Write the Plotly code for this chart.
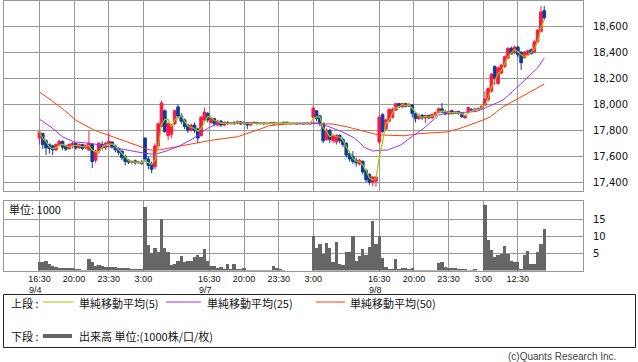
import plotly.graph_objects as go
import pandas as pd

W, H = 638, 362

# ---------------- data (20-minute bars) ----------------
# sessions: 9/4 night, 9/7 day, 9/7 night, 9/8 day, 9/8 night, 9/9 day
opens = [
    17740,17775,17720,17690,17680,17650,17690,17715,17680,17660,17680,17700,17665,17690,17665,17650,
    17690,17570,17640,17690,17665,17690,17710,17680,17660,17640,17600,17570,17555,17565,17550,17555,
    17740,17580,17540,17520,17680,17830,17950,17760,17770,17850,17980,17910,17880,17840,17800,17840,
    17810,17760,17880,17930,
    17860,17890,17840,17870,17840,17860,17850,17860,17855,17865,17850,17860,17840,17855,17860,17850,
    17855,17850,17852,17858,17850,17853,17848,17862,17852,17850,17852,17850,17851,17849,17852,
    17900,17950,17910,17850,17730,17800,17720,17710,17760,17730,17700,17620,17600,17570,17540,17560,
    17490,17460,17400,17410,
    17710,17920,17810,17870,17900,17955,18005,17980,18005,17985,17995,17930,17890,17915,17895,17915,
    17895,17915,17935,17965,17945,17925,17950,17930,17945,17935,17895,17940,17960,17955,17965,17965,
    17990,18035,18100,18290,18160,18240,18290,18355,18430,18395,18440,18400,18360,18380,18420,18400,
    18480,18560,18720,
]
highs = [
    17795,17780,17730,17700,17690,17700,17725,17720,17690,17700,17710,17705,17700,17695,17690,17795,
    17700,17650,17710,17715,17710,17780,17715,17690,17670,17645,17610,17580,17570,17575,17565,17570,
    17745,17600,17560,17700,17860,18030,17960,17860,17850,17960,18000,17930,17890,17850,17850,17860,
    17820,17910,17975,17940,
    17900,17895,17880,17880,17870,17870,17865,17870,17875,17870,17870,17865,17860,17870,17865,17860,
    17860,17858,17862,17866,17858,17856,17868,17866,17856,17855,17855,17854,17853,17855,17856,
    17985,17955,17920,17860,17815,17810,17770,17770,17770,17740,17710,17640,17640,17590,17580,17570,
    17500,17470,17450,17450,
    17920,17930,17890,17970,17975,18012,18012,18010,18010,18008,18000,17940,17925,17925,17920,17920,
    17930,17945,17975,18010,17955,17950,17960,17950,17950,17940,17915,17980,17970,17970,17975,17990,
    18100,18130,18240,18300,18290,18310,18375,18440,18445,18450,18450,18410,18410,18420,18430,18495,
    18580,18755,18755,
]
lows = [
    17690,17656,17610,17620,17610,17640,17680,17650,17640,17650,17660,17650,17655,17645,17655,17640,
    17510,17550,17620,17650,17650,17680,17660,17630,17610,17570,17530,17540,17540,17535,17540,17535,
    17560,17500,17470,17500,17660,17820,17780,17725,17740,17840,17890,17850,17810,17780,17790,17780,
    17700,17750,17870,17860,
    17850,17830,17830,17825,17830,17840,17845,17840,17845,17840,17845,17810,17835,17850,17845,17845,
    17845,17845,17848,17845,17848,17845,17846,17845,17846,17847,17846,17847,17846,17847,17845,
    17890,17870,17830,17700,17720,17700,17700,17690,17700,17670,17590,17560,17540,17520,17530,17460,
    17400,17380,17370,17366,
    17690,17780,17800,17860,17890,17950,17970,17975,17975,17978,17900,17860,17880,17880,17855,17885,
    17890,17905,17930,17935,17915,17920,17920,17925,17920,17895,17890,17935,17945,17950,17950,17960,
    17985,18020,18090,18150,18150,18230,18280,18345,18380,18385,18360,18265,18350,18370,18380,18395,
    18470,18550,18650,
]
closes = [
    17785,17690,17665,17660,17650,17690,17715,17670,17655,17690,17700,17665,17690,17660,17685,17700,
    17560,17640,17700,17665,17700,17715,17670,17650,17630,17590,17560,17555,17560,17550,17555,17545,
    17580,17530,17500,17680,17850,18010,17790,17850,17840,17950,17910,17870,17830,17800,17840,17800,
    17740,17900,17940,17880,
    17890,17850,17870,17840,17860,17850,17860,17855,17865,17850,17860,17840,17855,17860,17850,17855,
    17850,17852,17858,17850,17853,17848,17862,17852,17850,17852,17850,17851,17849,17852,17850,
    17970,17890,17850,17720,17800,17730,17760,17760,17720,17690,17610,17580,17560,17550,17570,17480,
    17420,17400,17440,17440,
    17900,17790,17880,17960,17960,18005,17980,18005,17985,18000,17930,17890,17910,17895,17915,17895,
    17920,17935,17965,17940,17925,17945,17930,17945,17930,17905,17910,17975,17955,17965,17960,17985,
    18040,18120,18230,18200,18280,18300,18365,18430,18390,18440,18380,18320,18400,18410,18390,18480,
    18570,18710,18665,
]
volumes = [
    2.5,2.5,2.9,2.0,1.3,1.0,0.9,0.9,0.9,0.9,0.8,0.6,0.6,0.3,0.3,3.5,
    2.5,1.5,1.8,1.5,1.0,1.2,1.2,1.0,0.8,0.8,0.7,0.7,0.5,0.5,0.5,0.4,
    18.7,7.6,5.2,6.7,5.5,15.1,6.5,5.5,1.7,2.0,3.0,4.3,2.7,3.0,3.0,4.0,4.6,4.0,6.4,3.0,
    1.5,1.5,0.7,1.2,0.5,2.0,0.5,2.0,0.5,0.6,0.7,0.2,0.2,0.2,0.2,0.2,
    0.3,0.3,0.3,1.5,0.7,0.5,0.2,0.1,0.1,0.1,0.1,0.1,0.1,0.1,0.1,
    10.0,6.7,7.8,4.9,8.1,6.7,2.6,8.4,2.1,1.6,5.6,5.6,10.2,3.0,4.3,6.4,4.5,7.0,14.5,7.8,
    10.2,3.8,1.0,0.6,0.5,3.4,0.5,0.7,0.7,0.5,0.7,0.3,0.3,0.3,0.2,0.2,
    0.2,0.2,2.2,2.5,1.2,0.9,0.9,0.9,0.5,0.5,0.5,0.3,0.3,0.5,0.1,0.1,
    19.0,9.0,6.2,4.0,4.6,5.0,7.1,5.0,3.0,2.6,2.6,0.5,4.6,5.7,1.9,2.0,5.4,7.8,12.2,
]

# moving averages (25 / 50), positioned in 10-minute slots
ma25_x = [0,7,14,21,31,43,53,63,70,78,85,93,102,108,118,134,146,166,170,178,
          184,191,197,202,205,211,219,227,233,242,247,258,265,271,281,287,293,302,306]
ma25_y = [17885,17825,17750,17710,17700,17670,17650,17625,17615,17645,17680,17735,17815,17855,17858,
          17855,17855,17858,17855,17815,17785,17740,17670,17640,17645,17648,17687,17763,17815,17917,
          17932,17938,17945,17975,18033,18100,18170,18280,18355]
ma50_x = [0,7,15,22,33,43,53,61,67,73,81,93,105,120,130,134,139,151,165,178,
          187,190,198,205,221,231,247,255,265,273,281,291,302,306]
ma50_y = [18094,18033,17955,17878,17802,17755,17710,17672,17648,17650,17670,17700,17725,17750,17790,
          17810,17835,17850,17852,17848,17825,17815,17787,17765,17758,17775,17787,17815,17860,17900,
          17980,18050,18125,18155]

# axis ticks (10-minute slot index)
tick_slots = [0, 21, 42, 63, 103, 124, 145, 166, 206, 227, 248, 269, 290]
tick_labels = ["16:30", "20:00", "23:30", "3:00", "16:30", "20:00", "23:30", "3:00",
               "16:30", "20:00", "23:30", "3:00", "12:30"]
date_slots = [0, 103, 206]
date_labels = ["9/4", "9/7", "9/8"]
price_ticks = [17400, 17600, 17800, 18000, 18200, 18400, 18600]
vol_ticks = [5, 10, 15]

# ---------------- build ----------------
bar_x = [2 * i for i in range(len(closes))]
ma5 = pd.Series(closes).rolling(3, min_periods=1).mean().tolist()

UP, DN = "#ff1744", "#0d3c9e"
C5, C25, C50 = "#99cc00", "#9b30ff", "#ff3b0a"
GRID = "#999999"
VOLC = "#666666"

def py(p):
    return 1 - p / H

def pxx(p):
    return p / W

fig = go.Figure()
fig.add_trace(go.Candlestick(
    x=bar_x, open=opens, high=highs, low=lows, close=closes,
    increasing=dict(line=dict(color=UP, width=1), fillcolor=UP),
    decreasing=dict(line=dict(color=DN, width=1), fillcolor=DN),
    whiskerwidth=0, showlegend=False, xaxis="x", yaxis="y"))
fig.add_trace(go.Scatter(x=ma50_x, y=ma50_y, mode="lines", line=dict(color=C50, width=1),
                         showlegend=False, xaxis="x", yaxis="y"))
fig.add_trace(go.Scatter(x=ma25_x, y=ma25_y, mode="lines", line=dict(color=C25, width=1),
                         showlegend=False, xaxis="x", yaxis="y"))
fig.add_trace(go.Scatter(x=bar_x, y=ma5, mode="lines", line=dict(color=C5, width=1.2),
                         showlegend=False, xaxis="x", yaxis="y"))
fig.add_trace(go.Bar(x=bar_x, y=volumes, width=2, marker=dict(color=VOLC, line=dict(width=0)),
                     showlegend=False, xaxis="x2", yaxis="y2"))

xr = [-21.8, 329.5]
common_x = dict(range=xr, tickvals=tick_slots, showgrid=True, gridcolor=GRID, gridwidth=1,
                showline=True, linecolor=GRID, linewidth=1, mirror=True, zeroline=False,
                domain=[pxx(3.5), pxx(583)], fixedrange=True)
tickfont = dict(family="DejaVu Sans", size=10, color="#111")

fig.update_layout(
    width=W, height=H, margin=dict(l=0, r=0, t=0, b=0),
    paper_bgcolor="white", plot_bgcolor="white",
    boxgap=0.1, boxgroupgap=0.1, bargap=0,
    showlegend=False,
    xaxis=dict(**common_x, anchor="y", showticklabels=False, rangeslider=dict(visible=False)),
    xaxis2=dict(**common_x, anchor="y2", showticklabels=True, ticktext=tick_labels,
                ticks="", tickfont=dict(family="Liberation Sans", size=9, color="#111")),
    yaxis=dict(domain=[py(190.5), py(0.5)], range=[17337, 18798], side="right",
               tickvals=price_ticks, tickformat=",d", showgrid=True, gridcolor=GRID,
               showline=True, linecolor=GRID, mirror=True, zeroline=False,
               ticks="outside", ticklen=7, tickcolor="rgba(0,0,0,0)", tickfont=tickfont,
               fixedrange=True),
    yaxis2=dict(domain=[py(270.5), py(201)], range=[0.1, 20.3], side="right",
                tickvals=vol_ticks, showgrid=True, gridcolor=GRID,
                showline=True, linecolor=GRID, mirror=True, zeroline=False,
                ticks="outside", ticklen=7, tickcolor="rgba(0,0,0,0)", tickfont=tickfont,
                fixedrange=True),
)

JP = "Noto Sans CJK JP"
ann = []
for s, lab in zip(date_slots, date_labels):
    ann.append(dict(x=s, xref="x2", y=py(289.5), yref="paper", text=lab, showarrow=False,
                    xanchor="left", yanchor="middle", xshift=-12,
                    font=dict(family="Liberation Sans", size=9, color="#111")))
ann.append(dict(x=pxx(7), y=py(209), xref="paper", yref="paper", text="単位: 1000",
                showarrow=False, xanchor="left", yanchor="middle",
                font=dict(family=JP, size=11, color="#111")))
legend_items = [
    ("上段 :", 9, 303), ("単純移動平均(5)", 77, 303), ("単純移動平均(25)", 205, 303),
    ("単純移動平均(50)", 348, 303), ("下段 :", 9, 336), ("出来高 単位:(1000株/口/枚)", 77, 336),
]
for t, x0, y0 in legend_items:
    ann.append(dict(x=pxx(x0), y=py(y0), xref="paper", yref="paper", text=t, showarrow=False,
                    xanchor="left", yanchor="middle", font=dict(family=JP, size=11, color="#111")))
ann.append(dict(x=pxx(618), y=py(356), xref="paper", yref="paper",
                text="(c)Quants Research Inc.", showarrow=False, xanchor="right",
                yanchor="middle", font=dict(family="Liberation Sans", size=10, color="#444")))
fig.update_layout(annotations=ann)

shapes = [
    dict(type="rect", xref="paper", yref="paper", x0=pxx(3.5), x1=pxx(635.5),
         y0=py(347.5), y1=py(294.5), line=dict(color="#222", width=1)),
    dict(type="line", xref="paper", yref="paper", x0=pxx(43), x1=pxx(73), y0=py(302), y1=py(302),
         line=dict(color=C5, width=1)),
    dict(type="line", xref="paper", yref="paper", x0=pxx(166), x1=pxx(201), y0=py(302), y1=py(302),
         line=dict(color=C25, width=1)),
    dict(type="line", xref="paper", yref="paper", x0=pxx(316), x1=pxx(345), y0=py(302), y1=py(302),
         line=dict(color=C50, width=1)),
    dict(type="line", xref="paper", yref="paper", x0=pxx(43), x1=pxx(72), y0=py(336), y1=py(336),
         line=dict(color=VOLC, width=4)),
]
fig.update_layout(shapes=shapes)

fig.write_html("out.html", config={"displayModeBar": False, "staticPlot": True})

# remove the browser's default page margin so the figure sits at the window's top-left
with open("out.html", encoding="utf-8") as f:
    html = f.read()
html = html.replace("<head>", "<head><style>html,body{margin:0;padding:0;overflow:hidden;}</style>", 1)
with open("out.html", "w", encoding="utf-8") as f:
    f.write(html)
